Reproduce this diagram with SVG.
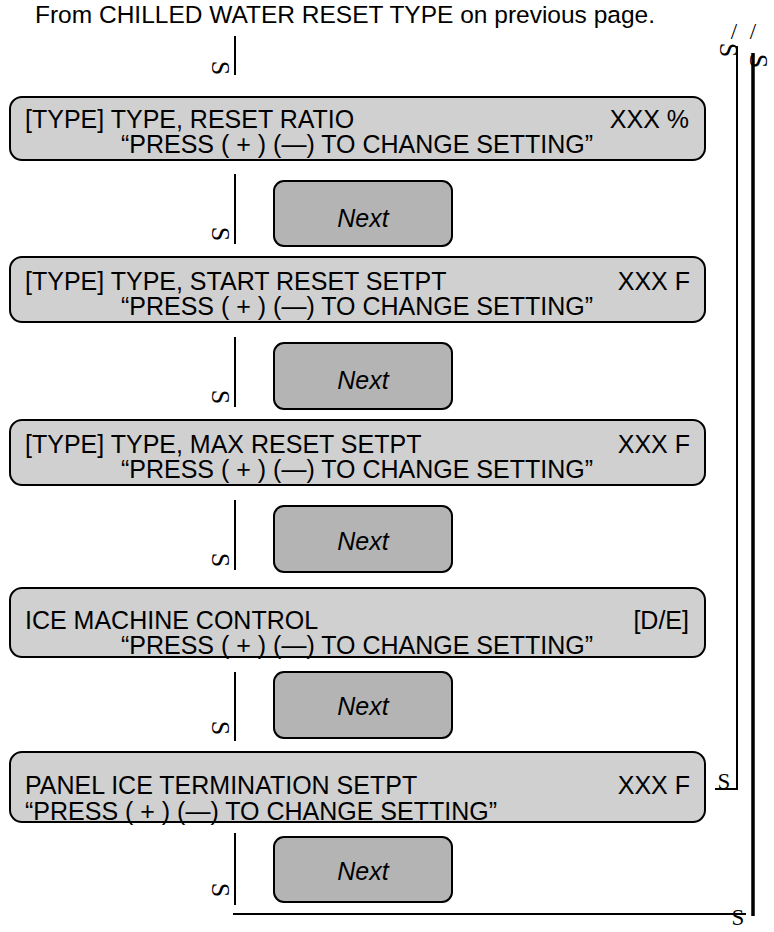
<svg xmlns="http://www.w3.org/2000/svg" width="774" height="932" viewBox="0 0 774 932">
<style>
.scr{fill:#d0d0d0;stroke:#000;stroke-width:2}
.nxt{fill:#b4b4b4;stroke:#000;stroke-width:2}
.t{font-family:"Liberation Sans",Arial,sans-serif;font-size:25px;fill:#000}
.h{font-family:"Liberation Sans",Arial,sans-serif;font-size:24.5px;fill:#000;text-anchor:middle}
.r{text-anchor:end}
.c{text-anchor:middle}
.n{font-family:"Liberation Sans",Arial,sans-serif;font-size:25px;font-style:italic;text-anchor:middle;fill:#000}
.s{font-family:"Liberation Serif","DejaVu Serif",serif;font-size:23px;fill:#000}
.sr{font-family:"Liberation Serif","DejaVu Serif",serif;font-size:26px;fill:#000;text-anchor:middle}
.ln{stroke:#000;stroke-width:2;fill:none}
.thick{stroke:#000;stroke-width:3.5;fill:none}
</style>
<rect width="774" height="932" fill="#fff"/>
<text class="h" x="345" y="23">From CHILLED WATER RESET TYPE on previous page.</text>

<g id="connectors">
<line class="ln" x1="235" y1="36" x2="235" y2="75"/>
<line class="ln" x1="235" y1="174" x2="235" y2="244"/>
<line class="ln" x1="235" y1="337" x2="235" y2="407"/>
<line class="ln" x1="235" y1="500" x2="235" y2="570"/>
<line class="ln" x1="235" y1="672" x2="235" y2="741"/>
<line class="ln" x1="235" y1="833" x2="235" y2="905"/>
<polyline class="ln" points="715,789 737,789 737,46"/>
<line class="thick" x1="753" y1="53" x2="753" y2="916"/>
<line class="ln" x1="233" y1="914" x2="746" y2="914"/>
<text class="sr" transform="translate(220,68) rotate(90)" dy="8">S</text>
<text class="sr" transform="translate(220,234) rotate(90)" dy="8">S</text>
<text class="sr" transform="translate(220,397) rotate(90)" dy="8">S</text>
<text class="sr" transform="translate(220,560) rotate(90)" dy="8">S</text>
<text class="sr" transform="translate(220,728) rotate(90)" dy="8">S</text>
<text class="sr" transform="translate(220,890) rotate(90)" dy="8">S</text>
<text class="sr" transform="translate(728,50) rotate(90)" dy="8">S</text>
<text class="sr" transform="translate(758,61) rotate(90)" dy="8">S</text>
<text class="s" x="724" y="789" text-anchor="middle">S</text>
<text class="s" x="738" y="925" text-anchor="middle" font-size="20">S</text>
<text class="s" x="734" y="39" text-anchor="middle">/</text>
<text class="s" x="753" y="39" text-anchor="middle">/</text>
</g>

<g id="box1">
<rect class="scr" x="10" y="97" width="695" height="63" rx="12"/>
<text class="t" x="25" y="128">[TYPE] TYPE, RESET RATIO</text>
<text class="t r" x="689" y="128">XXX %</text>
<text class="t c" x="357" y="153">“PRESS ( + ) (—) TO CHANGE SETTING”</text>
</g>
<g id="next1">
<rect class="nxt" x="274" y="181" width="178" height="65" rx="10"/>
<text class="n" x="363" y="227">Next</text>
</g>

<g id="box2">
<rect class="scr" x="10" y="257" width="695" height="65" rx="12"/>
<text class="t" x="25" y="290">[TYPE] TYPE, START RESET SETPT</text>
<text class="t r" x="690" y="290">XXX F</text>
<text class="t c" x="357" y="315">“PRESS ( + ) (—) TO CHANGE SETTING”</text>
</g>
<g id="next2">
<rect class="nxt" x="274" y="343" width="178" height="66" rx="10"/>
<text class="n" x="363" y="389">Next</text>
</g>

<g id="box3">
<rect class="scr" x="10" y="420" width="695" height="65" rx="12"/>
<text class="t" x="25" y="453">[TYPE] TYPE, MAX RESET SETPT</text>
<text class="t r" x="690" y="453">XXX F</text>
<text class="t c" x="357" y="478">“PRESS ( + ) (—) TO CHANGE SETTING”</text>
</g>
<g id="next3">
<rect class="nxt" x="274" y="506" width="178" height="66" rx="10"/>
<text class="n" x="363" y="550">Next</text>
</g>

<g id="box4">
<rect class="scr" x="10" y="588" width="695" height="69" rx="12"/>
<text class="t" x="25" y="629">ICE MACHINE CONTROL</text>
<text class="t r" x="689" y="629">[D/E]</text>
<text class="t c" x="357" y="654">“PRESS ( + ) (—) TO CHANGE SETTING”</text>
</g>
<g id="next4">
<rect class="nxt" x="274" y="672" width="178" height="66" rx="10"/>
<text class="n" x="363" y="715">Next</text>
</g>

<g id="box5">
<rect class="scr" x="10" y="752" width="695" height="70" rx="12"/>
<text class="t" x="25" y="794">PANEL ICE TERMINATION SETPT</text>
<text class="t r" x="690" y="794">XXX F</text>
<text class="t" x="25" y="820">“PRESS ( + ) (—) TO CHANGE SETTING”</text>
</g>
<g id="next5">
<rect class="nxt" x="274" y="837" width="178" height="65" rx="10"/>
<text class="n" x="363" y="880">Next</text>
</g>
</svg>
